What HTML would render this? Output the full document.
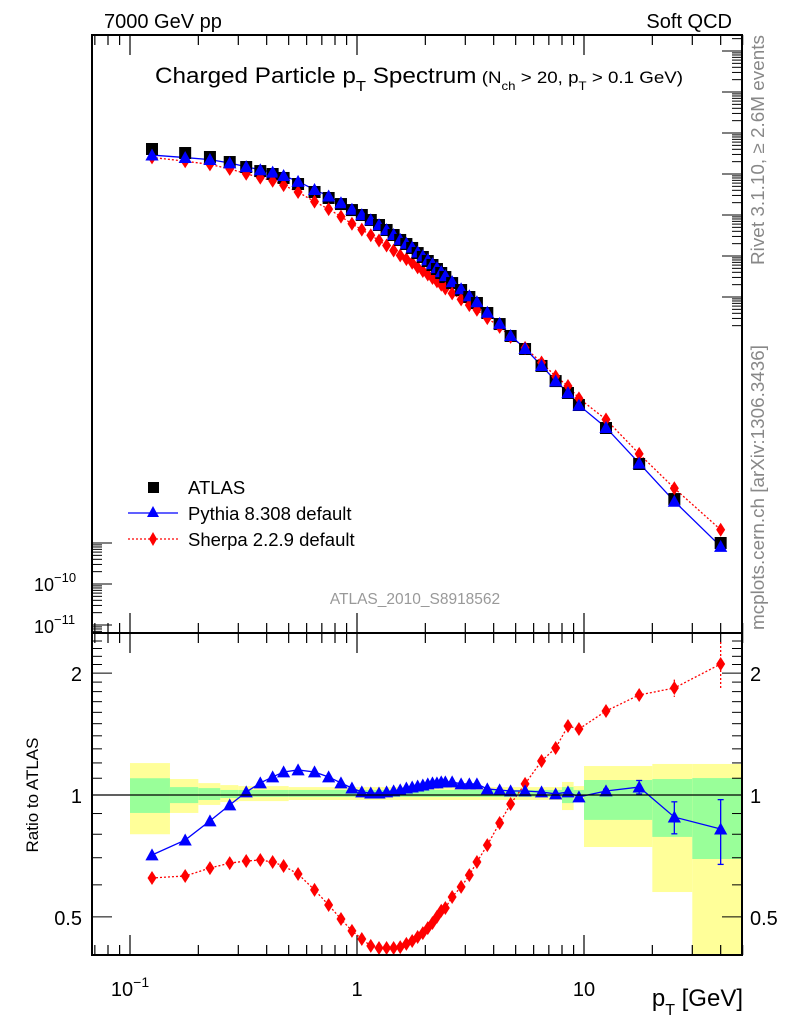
<!DOCTYPE html>
<html><head><meta charset="utf-8"><style>
body{margin:0;background:#fff;}
svg{display:block;font-family:"Liberation Sans",sans-serif;}
</style></head><body>
<svg id="chart" width="786" height="1024" viewBox="0 0 786 1024" xmlns="http://www.w3.org/2000/svg">
<defs>
<clipPath id="clipMain"><rect x="92" y="35" width="650" height="598"/></clipPath>
<clipPath id="clipRatio"><rect x="92" y="633" width="650" height="322"/></clipPath>
</defs>
<g id="bands" clip-path="url(#clipRatio)"></g>
<g id="ticks"></g>
<g id="mainMarks" clip-path="url(#clipMain)"></g>
<g id="ratioMarks" clip-path="url(#clipRatio)"></g>
<rect x="92" y="35" width="650" height="598" fill="none" stroke="#000" stroke-width="2"/>
<rect x="92" y="633" width="650" height="322" fill="none" stroke="#000" stroke-width="2"/>
<line x1="92" x2="742" y1="795" y2="795" stroke="#000" stroke-width="1.2"/>
<text x="104" y="28" font-size="20">7000 GeV pp</text>
<text x="732" y="28" font-size="20" text-anchor="end">Soft QCD</text>
<text x="155" y="83" font-size="22" textLength="528" lengthAdjust="spacingAndGlyphs">Charged Particle p<tspan font-size="15" dy="8">T</tspan><tspan dy="-8"> Spectrum</tspan><tspan font-size="17"> (N<tspan font-size="12" dy="7">ch</tspan><tspan dy="-7"> &gt; 20, p</tspan><tspan font-size="12" dy="7">T</tspan><tspan dy="-7"> &gt; 0.1 GeV)</tspan></tspan></text>
<text transform="translate(764,265) rotate(-90)" font-size="18" fill="#888" textLength="230" lengthAdjust="spacingAndGlyphs">Rivet 3.1.10, ≥ 2.6M events</text>
<text transform="translate(764,630) rotate(-90)" font-size="18" fill="#888" textLength="285" lengthAdjust="spacingAndGlyphs">mcplots.cern.ch [arXiv:1306.3436]</text>
<text x="415" y="604" font-size="15.5" fill="#999" text-anchor="middle">ATLAS_2010_S8918562</text>
<text transform="translate(38,795) rotate(-90)" font-size="17" text-anchor="middle">Ratio to ATLAS</text>
<text x="743" y="1006" font-size="24" text-anchor="end">p<tspan font-size="16" dy="9">T</tspan><tspan dy="-9">  [GeV]</tspan></text>
<g>
<rect x="148" y="482" width="11" height="11" fill="#000"/>
<text x="188" y="494" font-size="18.5">ATLAS</text>
<line x1="128" x2="178" y1="513" y2="513" stroke="#00f" stroke-width="1.3"/>
<polygon points="153,506 159,517 147,517" fill="#00f"/>
<text x="188" y="520" font-size="18.5">Pythia 8.308 default</text>
<line x1="128" x2="178" y1="539" y2="539" stroke="#f00" stroke-width="1.3" stroke-dasharray="2,2"/>
<polygon points="153,532 157,539 153,546 149,539" fill="#f00"/>
<text x="188" y="546" font-size="18.5">Sherpa 2.2.9 default</text>
</g>
</svg>
<script>
const ptCenters=[0.125,0.175,0.225,0.275,0.325,0.375,0.425,0.475,0.55,0.65,0.75,0.85,0.95,1.05,1.15,1.25,1.35,1.45,1.55,1.65,1.75,1.85,1.95,2.05,2.15,2.25,2.35,2.45,2.625,2.875,3.125,3.375,3.75,4.25,4.75,5.5,6.5,7.5,8.5,9.5,12.5,17.5,25,40];
const atlasValues=[4.07,3.25,2.60,1.96,1.48,1.18,1.00,0.80,0.570,0.364,0.260,0.185,0.132,0.100,0.0755,0.0570,0.0431,0.0325,0.0246,0.0196,0.0157,0.0118,0.00946,0.00755,0.00603,0.00482,0.00385,0.00307,0.00219,0.00148,0.00100,7.14e-4,4.07e-4,2.19e-4,1.12e-4,5.39e-5,2.08e-5,8.9e-6,4.56e-6,2.32e-6,6.38e-7,8.45e-8,1.18e-8,1.0e-9];
const pythiaRatio=[0.711,0.774,0.863,0.945,1.017,1.071,1.108,1.140,1.153,1.140,1.108,1.071,1.040,1.017,1.011,1.011,1.017,1.023,1.029,1.040,1.046,1.052,1.058,1.065,1.071,1.071,1.077,1.077,1.077,1.065,1.065,1.065,1.035,1.029,1.023,1.023,1.017,1.006,1.017,0.989,1.023,1.046,0.882,0.824];
const sherpaRatio=[0.624,0.631,0.660,0.679,0.687,0.691,0.683,0.668,0.638,0.583,0.535,0.494,0.462,0.441,0.424,0.419,0.419,0.419,0.421,0.429,0.436,0.446,0.456,0.469,0.483,0.500,0.518,0.526,0.560,0.593,0.634,0.683,0.752,0.853,0.950,1.065,1.213,1.306,1.480,1.455,1.612,1.766,1.837,2.106];
const pythiaErr=[0,0,0,0,0,0,0,0,0,0,0,0,0,0,0,0,0,0,0,0,0,0,0,0,0,0,0,0,0,0,0,0,0,0,0,0,0,0,0,0,0.01,0.04,0.08,0.15];
const sherpaErr=[0,0,0,0,0,0,0,0,0,0,0,0,0,0,0,0,0,0,0,0,0,0,0,0,0,0,0,0,0,0,0,0,0,0,0,0,0,0,0,0,0.02,0.04,0.09,0.28];
const bandEdges=[0.1,0.15,0.2,0.25,0.3,0.5,8,9,10,20,30,50];
const yellowHi=[1.199,1.095,1.07,1.058,1.052,1.046,1.077,1.052,1.179,1.193,1.193];
const yellowLo=[0.80,0.903,0.945,0.961,0.966,0.972,0.918,0.966,0.744,0.576,0.35];
const greenHi=[1.10,1.046,1.04,1.029,1.029,1.029,1.046,1.029,1.089,1.095,1.101];
const greenLo=[0.903,0.955,0.972,0.983,0.989,0.989,0.955,0.989,0.868,0.788,0.695];
const ratioTickLabels=[0.5,1,2];
const xTickLabels=[0.1,1,10];

const NS="http://www.w3.org/2000/svg";
function X(pt){return 357+227*Math.log10(pt);}
function YM(v){return 584-41*(Math.log10(v)+10);}
function YR(r){return 795-405*Math.log10(r);}
function mk(tag,attrs,parent){const e=document.createElementNS(NS,tag);for(const k in attrs)e.setAttribute(k,attrs[k]);parent.appendChild(e);return e;}
const bands=document.getElementById('bands'),ticks=document.getElementById('ticks'),mm=document.getElementById('mainMarks'),rm=document.getElementById('ratioMarks'),svg=document.getElementById('chart');

for(let i=0;i<bandEdges.length-1;i++){
  const x1=X(bandEdges[i]),x2=X(bandEdges[i+1]);
  const y=mk('rect',{x:x1,y:YR(yellowHi[i]),width:x2-x1,height:YR(yellowLo[i])-YR(yellowHi[i]),fill:'#ffff99'},bands);
  
  
  const g=mk('rect',{x:x1,y:YR(greenHi[i]),width:x2-x1,height:YR(greenLo[i])-YR(greenHi[i]),fill:'#99ff99'},bands);
  
  
}

for(let d=-2;d<=1;d++){for(let m=1;m<=9;m++){
  const v=m*Math.pow(10,d); if(v<0.068||v>50) continue;
  const x=X(v), L=(m===1)?20:10;
  [[35,1],[633,-1],[633,1],[955,-1]].forEach(([y0,s])=>{mk('line',{x1:x,x2:x,y1:y0,y2:y0+s*L,stroke:'#000','stroke-width':1.2},ticks);});
}}
xTickLabels.forEach(v=>{
  const t=mk('text',{x:X(v),y:996,'font-size':20,'text-anchor':'middle'},svg);
  
  
  if(v===0.1){t.innerHTML='10<tspan font-size="14" dy="-9">−1</tspan>';}else t.textContent=String(v);
});
for(let d=-12;d<=3;d++){for(let m=1;m<=9;m++){
  const v=m*Math.pow(10,d), y=584-41*(Math.log10(v)+10);
  if(y<36||y>632) continue;
  const L=(m===1)?20:10;
  if(y>540) mk('line',{x1:92,x2:92+L,y1:y,y2:y,stroke:'#000','stroke-width':1},ticks);
  if(y<330) mk('line',{x1:742,x2:742-L,y1:y,y2:y,stroke:'#000','stroke-width':1},ticks);
}}
[[-10,584],[-11,626]].forEach(([e,y])=>{
  const t=mk('text',{x:34,y:y+7,'font-size':18},svg);
  
  
  t.innerHTML='10<tspan font-size="13" dy="-9">'+(e===-10?'−10':'−11')+'</tspan>';
});
for(let k=4;k<=25;k++){
  const r=k/10, y=YR(r); if(y<634||y>954) continue;
  const L=(k===5||k===10||k===20)?20:10;
  mk('line',{x1:92,x2:92+L,y1:y,y2:y,stroke:'#000','stroke-width':1},ticks);
  mk('line',{x1:742,x2:742-L,y1:y,y2:y,stroke:'#000','stroke-width':1},ticks);
}
ratioTickLabels.forEach(r=>{
  const a=mk('text',{x:82,y:YR(r)+8,'font-size':20,'text-anchor':'end'},svg);
  
  
  a.textContent=String(r);
  const b=mk('text',{x:750,y:YR(r)+8,'font-size':20},svg);
  
  
  b.textContent=String(r);
});

function tri(x,y,s,p,name){const e=mk('polygon',{points:`${x},${y-s*0.55} ${x+s*0.55},${y+s*0.45} ${x-s*0.55},${y+s*0.45}`,fill:'#00f'},p);
  
  }
function dia(x,y,p,name){const e=mk('polygon',{points:`${x},${y-7} ${x+4.5},${y} ${x},${y+7} ${x-4.5},${y}`,fill:'#f00'},p);
  
  }

let pp='',sp='',pr='',sr='';
ptCenters.forEach((pt,i)=>{
  const x=X(pt);
  pp+=`${x},${YM(atlasValues[i]*pythiaRatio[i])} `;
  sp+=`${x},${YM(atlasValues[i]*sherpaRatio[i])} `;
  pr+=`${x},${YR(pythiaRatio[i])} `;
  sr+=`${x},${YR(sherpaRatio[i])} `;
});
const l1=mk('polyline',{points:sp,fill:'none',stroke:'#f00','stroke-width':1.3,'stroke-dasharray':'2,2'},mm);


const l2=mk('polyline',{points:pp,fill:'none',stroke:'#00f','stroke-width':1.3},mm);


const l3=mk('polyline',{points:sr,fill:'none',stroke:'#f00','stroke-width':1.3,'stroke-dasharray':'2,2'},rm);


const l4=mk('polyline',{points:pr,fill:'none',stroke:'#00f','stroke-width':1.3},rm);



ptCenters.forEach((pt,i)=>{
  const x=X(pt);
  const sq=mk('rect',{x:x-6,y:YM(atlasValues[i])-6,width:12,height:12,fill:'#000'},mm);
  
  
  dia(x,YM(atlasValues[i]*sherpaRatio[i]),mm,'sherpa-point');
  tri(x,YM(atlasValues[i]*pythiaRatio[i]),12,mm,'pythia-point');
  if(sherpaErr[i]>0){const e=mk('line',{x1:x,x2:x,y1:YR(sherpaRatio[i]+sherpaErr[i]),y2:YR(sherpaRatio[i]-sherpaErr[i]),stroke:'#f00','stroke-width':1.3,'stroke-dasharray':'2,2'},rm);
    
    }
  if(pythiaErr[i]>0){const e=mk('line',{x1:x,x2:x,y1:YR(pythiaRatio[i]+pythiaErr[i]),y2:YR(pythiaRatio[i]-pythiaErr[i]),stroke:'#00f','stroke-width':1.3},rm);
    
    
    [pythiaRatio[i]+pythiaErr[i],pythiaRatio[i]-pythiaErr[i]].forEach(r=>mk('line',{x1:x-3,x2:x+3,y1:YR(r),y2:YR(r),stroke:'#00f','stroke-width':1.3},rm));}
  dia(x,YR(sherpaRatio[i]),rm,'sherpa-ratio-point');
  tri(x,YR(pythiaRatio[i]),12,rm,'pythia-ratio-point');
});
</script>
</body></html>
